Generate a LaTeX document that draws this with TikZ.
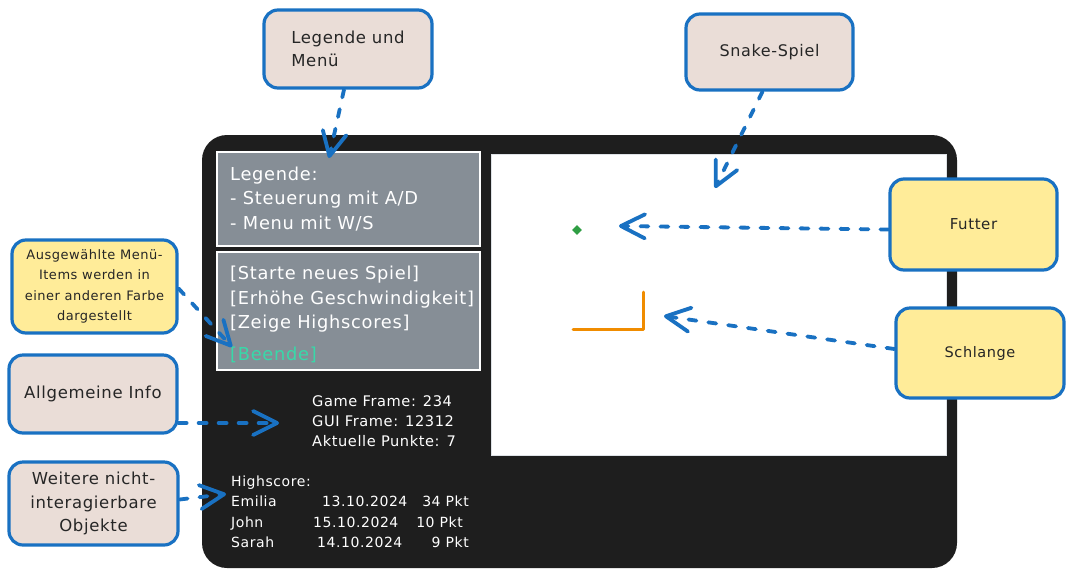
\documentclass[tikz,border=0pt]{standalone}
\usepackage{fontspec}
\setmainfont{DejaVu Sans}[LetterSpace=4]
\usetikzlibrary{arrows.meta,shapes.geometric}
\definecolor{screen}{HTML}{1E1E1E}
\definecolor{panel}{HTML}{868E96}
\definecolor{ablue}{HTML}{1971C2}
\definecolor{pinkbg}{HTML}{EADDD7}
\definecolor{yellowbg}{HTML}{FFEC99}
\definecolor{menuteal}{HTML}{38D9A9}
\definecolor{food}{HTML}{2F9E44}
\definecolor{snakecol}{HTML}{F08C00}
\definecolor{gameborder}{HTML}{DEE2E6}
\newcommand\myfs[2]{\fontsize{#1}{#2}\selectfont}
\begin{document}
\begin{tikzpicture}[x=1pt,y=-1pt,
  note/.style={draw=ablue,line width=3.2pt,rounded corners=14pt,align=center,text=black!85,inner sep=0pt},
  pinknote/.style={note,fill=pinkbg},
  yellownote/.style={note,fill=yellowbg},
  ann/.style={draw=ablue,line width=3.8pt,dash pattern=on 8pt off 12pt,line cap=round,
    -{Straight Barb[length=24pt,width=24pt,round]}},
  panelbox/.style={draw=white,fill=panel,line width=2.5pt,inner sep=0pt},
  wtext/.style={text=white,anchor=base west,inner sep=0pt},
  big/.style={font=\myfs{17.8}{23}},
  small/.style={font=\myfs{14}{16}},
]
\useasboundingbox (0,0) rectangle (1073,579);

% screen
\fill[screen,rounded corners=25pt] (202,135) rectangle (957,568);
\node[panelbox,minimum width=263pt,minimum height=94pt] (legpanel) at (348.5,199) {};
\node[panelbox,minimum width=263pt,minimum height=118pt] (menupanel) at (348.5,311) {};
\node[draw=gameborder,fill=white,line width=1pt,inner sep=0pt,minimum width=455pt,minimum height=301pt] (game) at (718.5,304.5) {};

% legend text
\node[wtext,big] (l1) at (230,180) {Legende:};
\node[wtext,big] (l2) at (230,204) {- Steuerung mit A/D};
\node[wtext,big] (l3) at (230,229) {- Menu mit W/S};
% menu text
\node[wtext,big] (m1) at (230,279) {[Starte neues Spiel]};
\node[wtext,big] (m2) at (230,304) {[Erhöhe Geschwindigkeit]};
\node[wtext,big] (m3) at (230,328) {[Zeige Highscores]};
\node[wtext,big,text=menuteal] (m4) at (230,360) {[Beende]};

% info
\node[wtext,font=\myfs{14.6}{18}] (i1) at (312,406) {Game Frame: 234};
\node[wtext,font=\myfs{14.6}{18}] (i2) at (312,426) {GUI Frame: 12312};
\node[wtext,font=\myfs{14.6}{18}] (i3) at (312,446) {Aktuelle Punkte: 7};

% highscore
\node[wtext,small] (h0) at (231,486) {Highscore:};
\node[wtext,small] (h1) at (231,506) {Emilia};
\node[wtext,small] (h2) at (231,527) {John};
\node[wtext,small] (h3) at (231,547) {Sarah};
\node[wtext,small] (d1) at (322,506) {13.10.2024};
\node[wtext,small] (d2) at (313,527) {15.10.2024};
\node[wtext,small] (d3) at (317,547) {14.10.2024};
\node[wtext,small,anchor=base east] (p1) at (469,506) {34 Pkt};
\node[wtext,small,anchor=base east] (p2) at (463,527) {10 Pkt};
\node[wtext,small,anchor=base east] (p3) at (469,547) {9 Pkt};

% game objects
\node[diamond,fill=food,inner sep=0pt,minimum size=10pt] (foodobj) at (577,230) {};
\draw[snakecol,line width=3pt,line cap=round,line join=round] (573,329) coordinate (s1) -- (643,329) coordinate (s2) -- (643,292) coordinate (s3);

% notes
\node[pinknote,minimum width=168pt,minimum height=78pt,font=\myfs{16.5}{23},align=left] (leg) at (348,49) {Legende und\\Menü};
\node[pinknote,minimum width=167pt,minimum height=76pt,font=\myfs{16}{20}] (snk) at (769.5,52) {Snake-Spiel};
\node[yellownote,minimum width=167pt,minimum height=91pt,font=\myfs{15}{16}] (fut) at (973.5,224.5) {Futter};
\node[yellownote,minimum width=168pt,minimum height=90pt,font=\myfs{14.5}{16}] (sch) at (980,353) {Schlange};
\node[yellownote,minimum width=165pt,minimum height=93pt,font=\myfs{13}{20.3}] (sel) at (94.5,286.5) {Ausgewählte Menü-\\Items werden in\\einer anderen Farbe\\dargestellt};
\node[pinknote,minimum width=168pt,minimum height=78pt,font=\myfs{16.5}{20}] (info) at (93,394) {Allgemeine Info};
\node[pinknote,minimum width=169pt,minimum height=83pt,font=\myfs{16.5}{23.5}] (weit) at (93.5,503.5) {Weitere nicht-\\interagierbare\\Objekte};

% arrow tips
\coordinate (legtip) at (329,158);
\coordinate (snktip) at (715,188);
\coordinate (futtip) at (619,226);
\coordinate (schtip) at (664,316);
\coordinate (seltip) at (232,347);
\coordinate (infotip) at (279,423);
\coordinate (weittip) at (226,494);

\draw[ann] ([xshift=-4pt]leg.south) -- (legtip);
\draw[ann] ([xshift=-7pt]snk.south) -- (snktip);
\draw[ann] ([yshift=-5pt]fut.west) -- (futtip);
\draw[ann] ([yshift=4pt]sch.west) -- (schtip);
\draw[ann] ([yshift=-2pt]sel.east) -- (seltip);
\draw[ann] (info.east |- infotip) -- (infotip);
\draw[ann] ([yshift=4pt]weit.east) -- (weittip);
\end{tikzpicture}
\end{document}
